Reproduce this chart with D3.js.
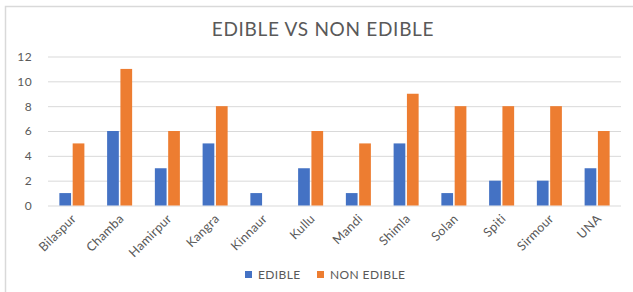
<!DOCTYPE html>
<html>
<head>
<meta charset="utf-8">
<script src="https://cdn.jsdelivr.net/npm/d3@7"></script>
<style>
  body { margin: 0; background: #fff; }
  text { font-family: Lato, "Open Sans", sans-serif; fill: #595959; }
</style>
</head>
<body>
<div id="chart"></div>
<script>
// Chart data.
const districts = ["Bilaspur", "Chamba", "Hamirpur", "Kangra", "Kinnaur", "Kullu",
    "Mandi", "Shimla", "Solan", "Spiti", "Sirmour", "UNA"];
const edible = [1, 6, 3, 5, 1, 3, 1, 5, 1, 2, 2, 3];
const nonEdible = [5, 11, 6, 8, 0, 6, 5, 9, 8, 8, 8, 6];
const seriesNames = ["EDIBLE", "NON EDIBLE"];
const seriesColors = ["#4472C4", "#ED7D31"];
const yTicks = [0, 2, 4, 6, 8, 10, 12];

const width = 633;
const height = 292;
const margin = { top: 56.5, right: 12, bottom: 86.5, left: 48 };

const svg = d3.select("#chart")
    .append("svg")
    .attr("width", width)
    .attr("height", height);

// Light frame, only top and left edges are visible in the picture.
svg.append("path")
    .attr("d", "M5.5,292 V6.5 H633")
    .attr("fill", "none")
    .attr("stroke", "#d9d9d9")
    .attr("stroke-width", 1.5);

const rows = districts.map((d, i) => ({ name: d, values: [edible[i], nonEdible[i]] }));

const x0 = d3.scaleBand()
    .domain(districts)
    .range([margin.left, width - margin.right])
    .paddingInner(0.476)
    .paddingOuter(0.238);

const x1 = d3.scaleBand()
    .domain([0, 1])
    .range([0, x0.bandwidth()])
    .paddingInner(0.12);

const y = d3.scaleLinear()
    .domain([0, 12])
    .range([height - margin.bottom, margin.top]);

// Gridlines and y labels.
const yAxis = svg.append("g")
    .attr("transform", `translate(${margin.left},0)`)
    .call(d3.axisLeft(y).tickValues(yTicks).tickSize(-(width - margin.left - margin.right)).tickPadding(16));
yAxis.select(".domain").remove();
yAxis.selectAll(".tick line").attr("stroke", "#d9d9d9").attr("stroke-width", 1);
yAxis.selectAll(".tick text").attr("font-size", 12).style("font-family", "Lato, sans-serif")
    .style("letter-spacing", "0.4px");

// Bars.
const groups = svg.selectAll("g.group")
    .data(rows)
    .enter()
    .append("g")
    .attr("class", "group")
    .attr("transform", d => `translate(${x0(d.name)},0)`);

groups.selectAll("rect")
    .data(d => d.values)
    .enter()
    .append("rect")
    .attr("x", (v, i) => x1(i))
    .attr("y", v => y(v))
    .attr("width", x1.bandwidth())
    .attr("height", v => y(0) - y(v))
    .attr("fill", (v, i) => seriesColors[i]);

// Rotated category labels.
const xAxis = svg.append("g")
    .attr("transform", `translate(0,${height - margin.bottom})`)
    .call(d3.axisBottom(x0).tickSize(0).tickPadding(0));
xAxis.select(".domain").remove();
xAxis.selectAll(".tick text")
    .attr("font-size", 12.5)
    .style("letter-spacing", "0.3px")
    .attr("text-anchor", "end")
    .attr("dy", 0)
    .attr("transform", "translate(5,14) rotate(-45)");

// Title.
svg.append("text")
    .attr("x", 323)
    .attr("y", 36)
    .attr("text-anchor", "middle")
    .attr("font-size", 19)
    .style("letter-spacing", "0.7px")
    .text("EDIBLE VS NON EDIBLE");

// Legend.
const legendX = [245, 317];
const legend = svg.selectAll("g.legend")
    .data(seriesNames)
    .enter()
    .append("g")
    .attr("class", "legend")
    .attr("transform", (d, i) => `translate(${legendX[i]},271)`);
legend.append("rect")
    .attr("width", 7)
    .attr("height", 7)
    .attr("fill", (d, i) => seriesColors[i]);
legend.append("text")
    .attr("x", 13)
    .attr("y", 8)
    .attr("font-size", 12)
    .style("letter-spacing", "0.4px")
    .text(d => d);
</script>
</body>
</html>
